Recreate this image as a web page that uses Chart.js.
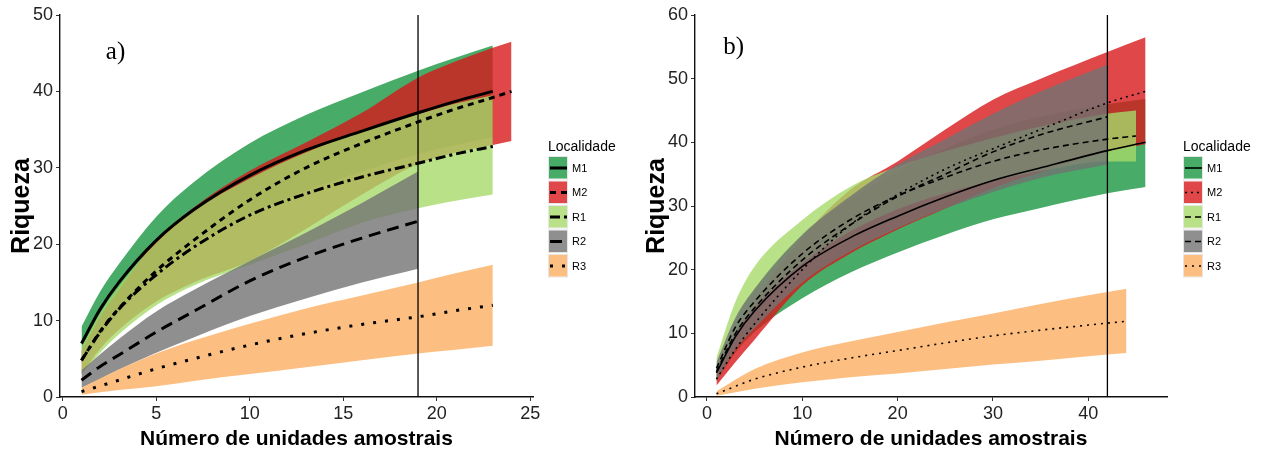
<!DOCTYPE html>
<html>
<head>
<meta charset="utf-8">
<script src="https://cdn.jsdelivr.net/npm/chart.js@4.4.0/dist/chart.umd.min.js"></script>
<style>
  html, body { margin: 0; padding: 0; background: #fff; }
  #wrap { position: relative; width: 1267px; height: 452px; }
  #chartA { position: absolute; left: 0; top: 0; }
  #chartB { position: absolute; left: 640px; top: 0; }
</style>
</head>
<body>
<div id="wrap">
  <canvas id="chartA" width="640" height="452"></canvas>
  <canvas id="chartB" width="627" height="452"></canvas>
</div>
<script>
// ---- data ----
const groups = ['M1', 'M2', 'R1', 'R2', 'R3'];
const legendTitle = 'Localidade';
const xTitle = 'Número de unidades amostrais';
const yTitle = 'Riqueza';

// panel a)
const a_xTicks = [0, 5, 10, 15, 20, 25];
const a_yTicks = [0, 10, 20, 30, 40, 50];
const a_cutoff = 19;
const a_M1_x = [1, 2, 3, 5, 7, 10, 13, 16, 19, 21, 23];
const a_M1_mean = [7, 11.5, 15, 20.5, 24.5, 29, 32.3, 34.8, 37.2, 38.7, 40];
const a_M1_upper = [9.2, 13.8, 17.4, 23.6, 28.1, 33.2, 36.9, 39.9, 42.7, 44.4, 46];
const a_M1_lower = [4.5, 8, 11, 16.5, 20, 24, 27, 29.5, 31.8, 33, 34];
const a_M2_x = [1, 2, 3, 5, 7, 10, 13, 16, 19, 21, 23, 24];
const a_M2_mean = [4.8, 8.6, 11.6, 16.5, 20.5, 25.8, 30, 33.2, 36, 37.7, 39.2, 40];
const a_M2_upper = [6, 10.5, 14, 20.5, 24.8, 29.6, 33.3, 37.2, 41.8, 43.9, 45.7, 46.5];
const a_M2_lower = [3, 6.3, 8.8, 12.5, 15, 17.8, 22, 26.5, 30.5, 32, 33, 33.5];
const a_R1_x = [1, 2, 3, 5, 7, 10, 13, 16, 19, 21, 23];
const a_R1_mean = [4.8, 8.5, 11.5, 16, 19.6, 23.8, 26.6, 28.8, 30.6, 31.8, 32.8];
const a_R1_upper = [6.5, 11, 14.5, 20.2, 24.3, 28.6, 32, 34.8, 37, 38.4, 39.5];
const a_R1_lower = [3, 5.8, 8.2, 12, 14.6, 17.3, 20, 22.8, 24.7, 25.7, 26.5];
const a_R2_x = [1, 2, 3, 5, 7, 10, 13, 16, 19];
const a_R2_mean = [2.2, 4, 5.5, 8.5, 11.2, 15.2, 18.3, 20.8, 23];
const a_R2_upper = [3.5, 5.6, 7.6, 11.2, 14, 17.8, 21.5, 25.4, 29.5];
const a_R2_lower = [1.2, 2.4, 3.6, 5.8, 7.8, 10.6, 12.9, 15, 16.8];
const a_R3_x = [1, 3, 5, 7, 10, 13, 16, 19, 21, 23];
const a_R3_mean = [0.7, 2.2, 3.7, 5, 6.8, 8.3, 9.5, 10.5, 11.3, 12];
const a_R3_upper = [1.2, 3.6, 5.7, 7.4, 9.6, 11.6, 13.3, 15, 16.2, 17.3];
const a_R3_lower = [0.3, 0.9, 1.4, 2.1, 3, 3.9, 4.8, 5.7, 6.2, 6.7];

// panel b)
const b_xTicks = [0, 10, 20, 30, 40];
const b_yTicks = [0, 10, 20, 30, 40, 50, 60];
const b_cutoff = 42;
const b_M1_x = [1, 3, 5, 10, 15, 20, 25, 30, 35, 42, 46];
const b_M1_mean = [3.8, 9.5, 13.5, 20.5, 25, 28.4, 31.4, 34, 36, 38.7, 40];
const b_M1_upper = [5, 12, 17, 25.5, 31, 35.5, 39, 42, 44, 46, 46.8];
const b_M1_lower = [2.5, 7, 10.2, 15.5, 19.5, 22.7, 25.5, 27.9, 29.7, 32, 33];
const b_M2_x = [1, 3, 5, 10, 15, 20, 25, 30, 35, 42, 46];
const b_M2_mean = [2.8, 7.5, 11.5, 20, 27, 31.8, 35.8, 39, 42, 46.2, 48];
const b_M2_upper = [3.8, 10, 15, 25, 32.5, 37, 42, 46.7, 50, 54.2, 56.5];
const b_M2_lower = [1.8, 5.5, 9, 17.5, 22.5, 26.3, 29.6, 32.8, 35.3, 38.5, 39.7];
const b_R1_x = [1, 3, 5, 10, 15, 20, 25, 30, 35, 42, 45];
const b_R1_mean = [4.5, 11, 15, 22.5, 27.8, 31.6, 34.5, 37, 38.8, 40.5, 41];
const b_R1_upper = [6.2, 15, 20.5, 27.8, 33, 36.2, 38.6, 40.7, 42.5, 44.5, 45];
const b_R1_lower = [3.5, 10, 14, 21, 26, 29.5, 32, 34, 35.5, 37, 37];
const b_R2_x = [1, 3, 5, 10, 15, 20, 25, 30, 35, 42];
const b_R2_mean = [4, 10, 14, 21.5, 27, 31.5, 35, 38.5, 41.2, 44];
const b_R2_upper = [5.5, 12.5, 17, 25.5, 31.5, 36.5, 40.5, 44.5, 48, 52.2];
const b_R2_lower = [2.5, 7.5, 10.8, 18, 22.8, 26.5, 29.6, 32.2, 34.4, 36.5];
const b_R3_x = [1, 5, 10, 15, 20, 25, 30, 35, 40, 44];
const b_R3_mean = [0.5, 2.8, 4.7, 6.1, 7.3, 8.5, 9.6, 10.5, 11.3, 11.9];
const b_R3_upper = [0.9, 4.4, 7, 8.7, 10.2, 11.7, 13.1, 14.6, 16, 17];
const b_R3_lower = [0.2, 1.3, 2.3, 3.1, 3.7, 4.4, 5.1, 5.7, 6.4, 6.9];

// ---- styles ----
const SANS = '"Liberation Sans", Arial, sans-serif';
const SERIF = '"Liberation Serif", "Times New Roman", serif';
const fillCols = ['rgba(26,150,65,0.8)', 'rgba(215,25,28,0.8)', 'rgba(166,217,106,0.8)',
                  'rgba(115,115,115,0.8)', 'rgba(253,174,97,0.8)'];
const dashA = [[], [6, 5], [10, 4, 3, 4], [12, 7], [3, 9]];
const dashB = [[], [2, 4], [6, 4], [6, 4], [2, 5]];

const pts = (xs, ys) => xs.map((x, i) => ({ x: x, y: ys[i] }));

function buildDatasets(series, dashes, lw, cutoff, yMax) {
  const ds = [];
  // mean lines on top
  series.forEach((s, i) => {
    ds.push({
      data: pts(s.x, s.mean), borderColor: '#000', borderWidth: lw,
      borderDash: dashes[i], pointRadius: 0, fill: false,
      cubicInterpolationMode: 'monotone', order: 0
    });
  });
  ds.push({
    data: [{ x: cutoff, y: 0 }, { x: cutoff, y: yMax }], borderColor: '#000',
    borderWidth: 1.3, pointRadius: 0, fill: false, order: 0
  });
  // ribbons, first group at bottom
  series.forEach((s, i) => {
    ds.push({
      data: pts(s.x, s.upper), borderWidth: 0, borderColor: 'rgba(0,0,0,0)',
      backgroundColor: fillCols[i], pointRadius: 0, fill: '+1',
      cubicInterpolationMode: 'monotone', order: 5 - i
    });
    ds.push({
      data: pts(s.x, s.lower), borderWidth: 0, borderColor: 'rgba(0,0,0,0)',
      pointRadius: 0, fill: false, cubicInterpolationMode: 'monotone', order: 5 - i
    });
  });
  return ds;
}

const legendPlugin = {
  id: 'locLegend',
  afterDraw(chart) {
    const o = chart.options.plugins.locLegend;
    const ctx = chart.ctx;
    ctx.save();
    ctx.fillStyle = '#000';
    ctx.font = '14px ' + SANS;
    ctx.textBaseline = 'alphabetic';
    ctx.fillText(legendTitle, o.x, o.y);
    groups.forEach((g, i) => {
      const top = o.y + 5 + i * 24.5;
      ctx.fillStyle = '#e6e6e6';
      ctx.fillRect(o.x, top, o.w, 23.5);
      ctx.fillStyle = '#fff';
      ctx.fillRect(o.x + 1, top + 1, o.w - 2, 21.5);
      ctx.fillStyle = fillCols[i];
      ctx.fillRect(o.x + 1, top + 1, o.w - 2, 21.5);
      ctx.strokeStyle = '#000';
      ctx.lineWidth = o.lw;
      ctx.setLineDash(o.dashes[i]);
      ctx.beginPath();
      ctx.moveTo(o.x + 2, top + 12);
      ctx.lineTo(o.x + o.w - 1, top + 12);
      ctx.stroke();
      ctx.setLineDash([]);
      ctx.fillStyle = '#000';
      ctx.font = '11px ' + SANS;
      ctx.textBaseline = 'middle';
      ctx.fillText(g, o.x + o.w + 4, top + 12.5);
      ctx.textBaseline = 'alphabetic';
    });
    // panel tag
    const xs = chart.scales.x, ys = chart.scales.y;
    ctx.font = '25px ' + SERIF;
    ctx.fillText(o.tag, xs.getPixelForValue(o.tagX), ys.getPixelForValue(o.tagY));
    ctx.restore();
  }
};

function makeChart(id, p) {
  return new Chart(document.getElementById(id), {
    type: 'line',
    data: { datasets: buildDatasets(p.series, p.dashes, p.lw, p.cutoff, p.yMax) },
    plugins: [legendPlugin],
    options: {
      responsive: false,
      animation: false,
      events: [],
      layout: { padding: { left: 0, top: 15, right: p.padRight, bottom: 0 } },
      plugins: {
        legend: { display: false },
        tooltip: { enabled: false },
        locLegend: { x: p.legX, y: 151, w: 20, lw: p.lw, dashes: p.dashes,
                     tag: p.tag, tagX: p.tagX, tagY: p.tagY }
      },
      scales: {
        x: {
          type: 'linear', min: p.xMin, max: p.xMax,
          afterBuildTicks: s => { s.ticks = p.xTicks.map(v => ({ value: v })); },
          afterFit: s => { s.height = 55; },
          grid: { drawOnChartArea: false, drawTicks: true, tickLength: 4, color: '#333' },
          border: { display: true, color: '#111', width: 1.4 },
          ticks: { font: { family: SANS, size: 18 }, color: '#222', padding: 2, maxRotation: 0 },
          title: { display: true, text: xTitle, color: '#000', padding: { top: 0, bottom: 2 },
                   font: { family: SANS, size: 21, weight: 'bold', lineHeight: 1 } }
        },
        y: {
          type: 'linear', min: 0, max: p.yMax,
          afterBuildTicks: s => { s.ticks = p.yTicks.map(v => ({ value: v })); },
          afterFit: s => { s.width = p.yWidth; },
          grid: { drawOnChartArea: false, drawTicks: true, tickLength: 4, color: '#333' },
          border: { display: true, color: '#111', width: 1.4 },
          ticks: { font: { family: SANS, size: 18 }, color: '#222', padding: 3 },
          title: { display: true, text: yTitle, color: '#000', padding: { top: p.yTitlePad, bottom: 0 },
                   font: { family: SANS, size: 25, weight: 'bold', lineHeight: 1 } }
        }
      }
    }
  });
}

const seriesA = [
  { x: a_M1_x, mean: a_M1_mean, upper: a_M1_upper, lower: a_M1_lower },
  { x: a_M2_x, mean: a_M2_mean, upper: a_M2_upper, lower: a_M2_lower },
  { x: a_R1_x, mean: a_R1_mean, upper: a_R1_upper, lower: a_R1_lower },
  { x: a_R2_x, mean: a_R2_mean, upper: a_R2_upper, lower: a_R2_lower },
  { x: a_R3_x, mean: a_R3_mean, upper: a_R3_upper, lower: a_R3_lower }
];
const seriesB = [
  { x: b_M1_x, mean: b_M1_mean, upper: b_M1_upper, lower: b_M1_lower },
  { x: b_M2_x, mean: b_M2_mean, upper: b_M2_upper, lower: b_M2_lower },
  { x: b_R1_x, mean: b_R1_mean, upper: b_R1_upper, lower: b_R1_lower },
  { x: b_R2_x, mean: b_R2_mean, upper: b_R2_upper, lower: b_R2_lower },
  { x: b_R3_x, mean: b_R3_mean, upper: b_R3_upper, lower: b_R3_lower }
];

makeChart('chartA', {
  series: seriesA, dashes: dashA, lw: 3, cutoff: a_cutoff, yMax: 50,
  xMin: -0.15, xMax: 25.15, xTicks: a_xTicks, yTicks: a_yTicks,
  padRight: 107, yWidth: 60, yTitlePad: 10, legX: 548,
  tag: 'a)', tagX: 2.3, tagY: 44.2
});
makeChart('chartB', {
  series: seriesB, dashes: dashB, lw: 1.6, cutoff: b_cutoff, yMax: 60,
  xMin: -1.25, xMax: 48.25, xTicks: b_xTicks, yTicks: b_yTicks,
  padRight: 100, yWidth: 55, yTitlePad: 5, legX: 543,
  tag: 'b)', tagX: 1.7, tagY: 53.9
});
</script>
</body>
</html>
